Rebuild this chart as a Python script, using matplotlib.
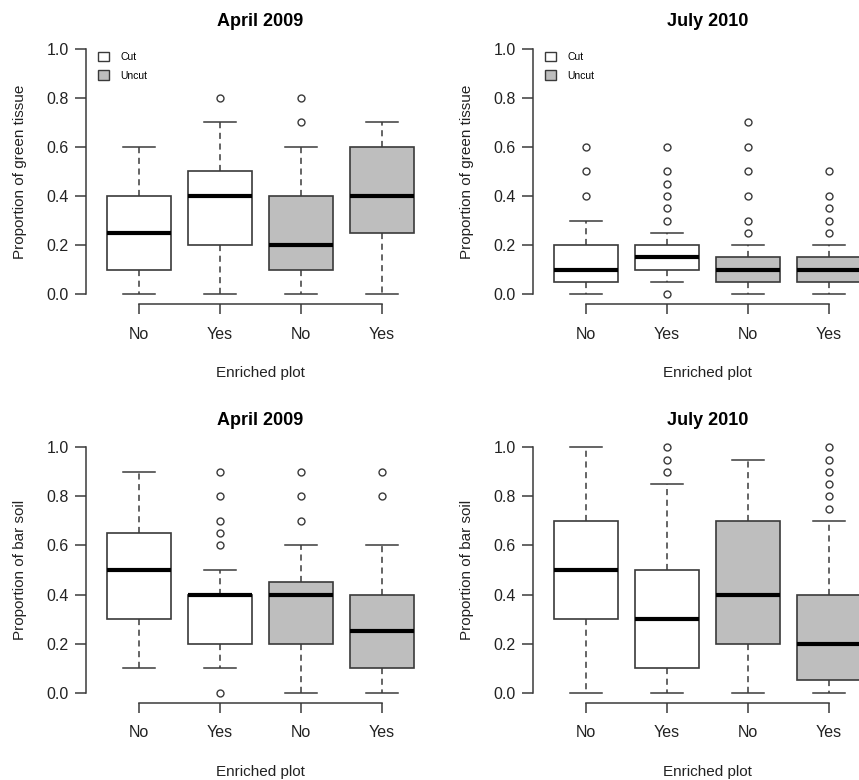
import matplotlib
matplotlib.use("Agg")
import matplotlib.pyplot as plt
from matplotlib.patches import Patch

plt.rcParams['font.family'] = ['Liberation Sans', 'DejaVu Sans']

# tick labels along x (Cut: No, Yes / Uncut: No, Yes)
enriched = ["No", "Yes", "No", "Yes"]
cut_state = ["Cut", "Cut", "Uncut", "Uncut"]

# box stats: (whislo, q1, med, q3, whishi, fliers)
green_apr09 = [
    (0.0, 0.10, 0.25, 0.40, 0.60, []),
    (0.0, 0.20, 0.40, 0.50, 0.70, [0.8]),
    (0.0, 0.10, 0.20, 0.40, 0.60, [0.7, 0.8]),
    (0.0, 0.25, 0.40, 0.60, 0.70, []),
]
green_jul10 = [
    (0.00, 0.05, 0.10, 0.20, 0.30, [0.4, 0.5, 0.6]),
    (0.05, 0.10, 0.15, 0.20, 0.25, [0.0, 0.3, 0.35, 0.4, 0.45, 0.5, 0.6]),
    (0.00, 0.05, 0.10, 0.15, 0.20, [0.25, 0.3, 0.4, 0.5, 0.6, 0.7]),
    (0.00, 0.05, 0.10, 0.15, 0.20, [0.25, 0.3, 0.35, 0.4, 0.5]),
]
soil_apr09 = [
    (0.1, 0.3, 0.50, 0.65, 0.9, []),
    (0.1, 0.2, 0.40, 0.40, 0.5, [0.0, 0.6, 0.65, 0.7, 0.8, 0.9]),
    (0.0, 0.2, 0.40, 0.45, 0.6, [0.7, 0.8, 0.9]),
    (0.0, 0.1, 0.25, 0.40, 0.6, [0.8, 0.9]),
]
soil_jul10 = [
    (0.0, 0.30, 0.5, 0.7, 1.00, []),
    (0.0, 0.10, 0.3, 0.5, 0.85, [0.9, 0.95, 1.0]),
    (0.0, 0.20, 0.4, 0.7, 0.95, []),
    (0.0, 0.05, 0.2, 0.4, 0.70, [0.75, 0.8, 0.85, 0.9, 0.95, 1.0]),
]

fills = {"Cut": "white", "Uncut": "#bebebe"}
edge = "#3a3a3a"
txt = "#222222"

fig = plt.figure(figsize=(8.59, 7.80), dpi=100)
W, H = 859, 780


def make_axes(left_px, top_px):
    # plot region in pixels: 350 wide, 265 high
    return fig.add_axes([left_px / W, 1 - (top_px + 265) / H, 350 / W, 265 / H])


panels = [
    (make_axes(85.5, 39), green_apr09, "April 2009", "Proportion of green tissue", True),
    (make_axes(532.5, 39), green_jul10, "July 2010", "Proportion of green tissue", True),
    (make_axes(85.5, 437.5), soil_apr09, "April 2009", "Proportion of bar soil", False),
    (make_axes(532.5, 437.5), soil_jul10, "July 2010", "Proportion of bar soil", False),
]

for ax, data, title, ylab, show_leg in panels:
    stats = []
    for (lo, q1, med, q3, hi, fl), lab in zip(data, enriched):
        stats.append(dict(whislo=lo, q1=q1, med=med, q3=q3, whishi=hi, fliers=fl, label=lab))
    bp = ax.bxp(stats, positions=[1, 2, 3, 4], widths=0.8, patch_artist=True,
                boxprops=dict(edgecolor=edge, linewidth=1.2),
                medianprops=dict(color="black", linewidth=3, solid_capstyle="butt"),
                whiskerprops=dict(color=edge, linewidth=1.1, linestyle=(0, (4, 3))),
                capprops=dict(color=edge, linewidth=1.1),
                capwidths=0.4,
                flierprops=dict(marker="o", markersize=5, markerfacecolor="white",
                                markeredgecolor=edge, markeredgewidth=1.0))
    for patch, state in zip(bp["boxes"], cut_state):
        patch.set_facecolor(fills[state])
    for ln in bp["medians"]:
        ln.set_zorder(4)

    ax.set_xlim(0.34, 4.66)
    ax.set_ylim(-0.04, 1.04)
    ax.set_yticks([0, 0.2, 0.4, 0.6, 0.8, 1.0])
    ax.set_yticklabels(["0.0", "0.2", "0.4", "0.6", "0.8", "1.0"])
    ax.set_xticks([1, 2, 3, 4])
    ax.set_xticklabels(enriched)
    for s in ["top", "right"]:
        ax.spines[s].set_visible(False)
    ax.spines["left"].set_bounds(0, 1)
    ax.spines["bottom"].set_bounds(1, 4)
    for s in ["left", "bottom"]:
        ax.spines[s].set_color(edge)
        ax.spines[s].set_linewidth(1.1)
    ax.tick_params(axis="y", length=8, width=1.1, color=edge, pad=4, labelsize=11.5,
                   labelcolor=txt)
    ax.tick_params(axis="x", length=7, width=1.1, color=edge, pad=9.5, labelsize=11.5,
                   labelcolor=txt)
    ax.set_title(title, fontsize=13, fontweight="bold", pad=9)
    ax.set_ylabel(ylab, fontsize=11, color=txt)
    ax.yaxis.set_label_coords(-0.168, 0.5)
    ax.set_xlabel("Enriched plot", fontsize=11, color=txt, labelpad=17.5)
    ax.set_clip_on(False)

    if show_leg:
        handles = [Patch(facecolor=fills[k], edgecolor=edge, linewidth=1.0) for k in ["Cut", "Uncut"]]
        ax.legend(handles, ["Cut", "Uncut"], loc="upper left", bbox_to_anchor=(0.036, 0.952),
                  frameon=False, fontsize=7.5, handlelength=1.05, handleheight=1.05,
                  handletextpad=1.1, labelspacing=0.8, borderaxespad=0, borderpad=0)

fig.savefig("out.png", dpi=100)
